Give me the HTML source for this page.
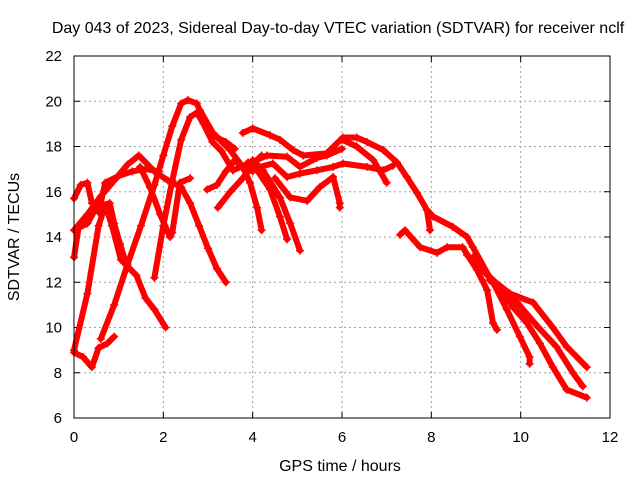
<!DOCTYPE html>
<html><head><meta charset="utf-8"><style>
body{margin:0;background:#fff}
svg{display:block;font-family:"Liberation Sans",sans-serif}
</style></head><body>
<svg id="chart" width="640" height="480">
<rect width="640" height="480" fill="#fff"/>
<text x="338" y="33" font-size="16" text-anchor="middle">Day 043 of 2023, Sidereal Day-to-day VTEC variation (SDTVAR) for receiver nclf</text>
<text x="340" y="471" font-size="16" text-anchor="middle">GPS time / hours</text>
<text transform="translate(19,237) rotate(-90)" font-size="16" text-anchor="middle">SDTVAR / TECUs</text>
<g id="grid"></g>
<g id="ticks"></g>
<g id="series"></g>
<rect x="74" y="56" width="536" height="362" fill="none" stroke="#000" stroke-width="1"/>
</svg>
<script>
const xTicks=[0,2,4,6,8,10,12];
const yTicks=[6,8,10,12,14,16,18,20,22];
const traceA=[[0,8.9],[0.2,8.7],[0.4,8.25],[0.55,9.1],[0.75,9.3],[0.9,9.6]];
const traceB=[[0,9],[0.3,11.5],[0.55,14.5],[0.7,15.4],[0.85,14.5],[1.05,13],[1.2,12.7],[1.4,12.3],[1.6,11.3],[1.8,10.8],[2.05,10.0]];
const traceC=[[0.6,9.5],[0.9,11],[1.2,12.8],[1.5,14.5],[1.8,16.3],[2.0,17.6],[2.2,18.9],[2.4,19.9],[2.55,20.05],[2.75,19.9],[2.9,19.2],[3.1,18.5],[3.4,18.2],[3.6,17.9]];
const traceD=[[1.8,12.2],[2.0,14.5],[2.2,16.5],[2.4,18.3],[2.6,19.3],[2.75,19.5],[2.9,19.0],[3.1,18.2],[3.3,17.8],[3.56,16.95]];
const traceE=[[0,14.3],[0.3,15],[0.6,15.8],[0.9,16.5],[1.2,17.2],[1.45,17.6],[1.6,17.3],[1.8,16.9],[2.1,16.5],[2.4,16.2],[2.6,15.5],[2.8,14.5],[3.0,13.5],[3.2,12.6],[3.4,12.0]];
const traceF=[[0,15.7],[0.15,16.3],[0.3,16.4],[0.4,15.5],[0.55,15.1],[0.7,16.4],[1.0,16.7],[1.3,16.9],[1.6,17.0],[1.9,16.9]];
const traceG=[[0,13.1],[0.1,14.4],[0.3,14.6],[0.5,15.3],[0.8,15.5],[0.9,14.6],[1.03,13.7],[1.2,12.6]];
const traceH=[[1.48,17.1],[1.7,16.2],[1.93,15],[2.15,14],[2.2,14.2],[2.37,16.4],[2.6,16.6]];
const traceI=[[2.98,16.1],[3.2,16.3],[3.4,16.9],[3.6,17.4],[3.8,17.0],[4.0,16.9]];
const traceJ=[[3.22,15.3],[3.5,16.0],[3.78,16.6],[4.0,17.2],[4.2,17.6]];
const traceK=[[3.78,18.6],[4.0,18.8],[4.39,18.5],[4.61,18.3],[4.9,17.85],[5.13,17.6],[5.66,17.7],[6.02,18.4],[6.33,18.4],[6.56,18.2],[6.92,17.85],[7.23,17.3],[7.45,16.65],[7.68,15.95],[7.9,15.2],[7.97,14.3]];
const traceK2=[[7.9,15.2],[8.04,14.9],[8.48,14.45],[8.8,14.0],[8.93,13.55],[9.31,12.2],[9.76,11.5],[10.28,11.1],[10.72,10.0],[11.03,9.15],[11.48,8.25]];
const traceL=[[7.3,14.1],[7.41,14.3],[7.75,13.55],[8.13,13.3],[8.35,13.55],[8.7,13.55],[9.02,12.55],[9.25,11.65],[9.38,10.2],[9.47,9.9]];
const traceM=[[8.93,13.1],[9.38,12],[9.69,10.8],[9.98,9.6],[10.2,8.7],[10.2,8.4]];
const traceN=[[8.8,13.2],[9.54,11.8],[9.83,10.9],[10.14,10.2],[10.43,9.3],[10.72,8.25],[11.03,7.25],[11.48,6.9]];
const traceO=[[9.3,12.1],[9.92,11.1],[10.4,10.0],[10.8,9.15],[11.17,8.0],[11.39,7.4]];
const traceP=[[2.82,19.6],[3.11,18.6],[3.49,17.85],[3.78,17.1],[3.94,16.4],[4.1,15.3],[4.2,14.3]];
const traceQ=[[3.9,17.3],[4.1,16.95],[4.39,16.1],[4.61,14.9],[4.77,13.9]];
const traceR=[[4.0,17.4],[4.23,16.95],[4.61,15.75],[4.84,14.6],[5.06,13.4]];
const traceS=[[3.56,16.95],[4.32,17.6],[4.77,17.55],[5.06,17.1],[5.44,17.5],[5.66,17.6],[6.0,17.9]];
const traceT=[[3.87,16.95],[4.45,17.25],[4.77,16.65],[5.06,16.8],[5.44,16.95],[5.8,17.1],[6.02,17.25],[6.56,17.1],[6.92,16.95],[7.14,17.15]];
const traceU=[[4.5,16.6],[4.84,15.75],[5.22,15.6],[5.5,16.2],[5.8,16.65],[5.95,15.5],[5.95,15.3]];
const traceV=[[6.0,18.3],[6.33,18.0],[6.7,17.4],[7.0,16.4]];
const traces=[traceA,traceB,traceC,traceD,traceE,traceF,traceG,traceH,traceI,traceJ,traceK,traceK2,traceL,traceM,traceN,traceO,traceP,traceQ,traceR,traceS,traceT,traceU,traceV];

const NS="http://www.w3.org/2000/svg";
const X0=74,X1=610,Y0=418,Y1=56;
function sx(h){return X0+(h-0)/(12-0)*(X1-X0);}
function sy(v){return Y0-(v-6)/(22-6)*(Y0-Y1);}
const grid=document.getElementById('grid'),ticks=document.getElementById('ticks'),series=document.getElementById('series');
function mk(t,a,p){const e=document.createElementNS(NS,t);for(const k in a)e.setAttribute(k,a[k]);p.appendChild(e);return e;}
xTicks.forEach(t=>{
  const x=sx(t);
  if(t>0&&t<12){const g=mk('line',{x1:x,x2:x,y1:Y1,y2:Y0,stroke:'#a0a0a0','stroke-dasharray':'2,3'},grid);
  
  }
  mk('line',{x1:x,x2:x,y1:Y0,y2:Y0-6,stroke:'#000'},ticks);
  mk('line',{x1:x,x2:x,y1:Y1,y2:Y1+6,stroke:'#000'},ticks);
  const l=mk('text',{x:x,y:Y0+24,'font-size':15,'text-anchor':'middle'},ticks);l.textContent=t;
  
  
});
yTicks.forEach(t=>{
  const y=sy(t);
  if(t>6&&t<22){const g=mk('line',{x1:X0,x2:X1,y1:y,y2:y,stroke:'#a0a0a0','stroke-dasharray':'2,3'},grid);
  
  }
  mk('line',{x1:X0,x2:X0+6,y1:y,y2:y,stroke:'#000'},ticks);
  mk('line',{x1:X1,x2:X1-6,y1:y,y2:y,stroke:'#000'},ticks);
  const l=mk('text',{x:X0-12,y:y+5,'font-size':15,'text-anchor':'end'},ticks);l.textContent=t;
  
  
});
traces.forEach((tr,i)=>{
  const pts=tr.map(p=>sx(p[0]).toFixed(1)+','+sy(p[1]).toFixed(1)).join(' ');
  const pl=mk('polyline',{points:pts,fill:'none',stroke:'#ff0000','stroke-width':6,'stroke-linejoin':'round','stroke-linecap':'round'},series);
  
  
  tr.forEach(p=>{
    const x=sx(p[0]),y=sy(p[1]);
    const m=mk('path',{d:`M${x-4},${y}H${x+4}M${x},${y-4}V${y+4}`,stroke:'#ff0000','stroke-width':1.5},series);
    
    
  });
});
</script>
</body></html>
